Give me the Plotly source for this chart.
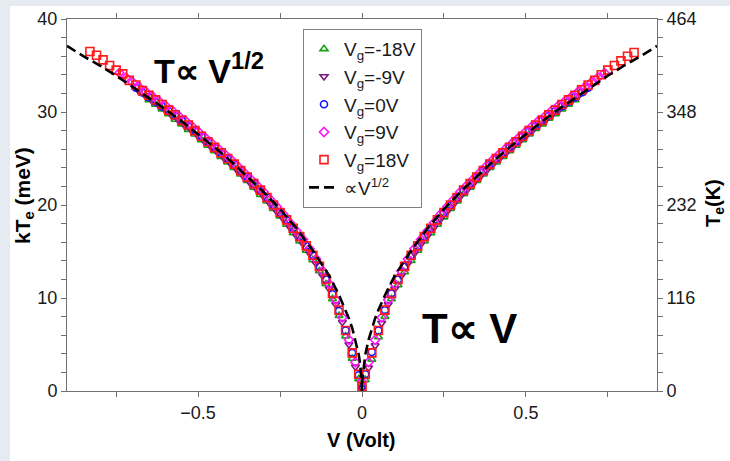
import plotly.graph_objects as go

# ---------------- data ----------------
v_m18 = [-0.65, -0.63, -0.61, -0.59, -0.57, -0.55, -0.53, -0.51, -0.49, -0.47, -0.45,
         -0.43, -0.41, -0.39, -0.37, -0.35, -0.33, -0.31, -0.29, -0.27, -0.25, -0.23,
         -0.21, -0.19, -0.17, -0.15, -0.13, -0.11, -0.09, -0.07, -0.05, -0.03, -0.01,
         0.0,
         0.01, 0.03, 0.05, 0.07, 0.09, 0.11, 0.13, 0.15, 0.17, 0.19, 0.21, 0.23, 0.25,
         0.27, 0.29, 0.31, 0.33, 0.35, 0.37, 0.39, 0.41, 0.43, 0.45, 0.47, 0.49, 0.51,
         0.53, 0.55, 0.57, 0.59, 0.61, 0.63, 0.65]
kt_m18 = [31.3, 30.8, 30.3, 29.8, 29.2, 28.7, 28.1, 27.6, 27.0, 26.4, 25.8,
          25.2, 24.6, 24.0, 23.3, 22.6, 21.9, 21.1, 20.4, 19.6, 18.8, 17.9,
          17.0, 16.1, 15.1, 14.1, 12.9, 11.5, 9.9, 8.1, 5.9, 3.5, 1.3,
          0.8,
          1.2, 3.4, 5.8, 8.0, 9.9, 11.4, 12.8, 14.0, 15.1, 16.1, 17.0, 17.9, 18.7,
          19.6, 20.4, 21.2, 21.9, 22.6, 23.3, 24.0, 24.6, 25.2, 25.8, 26.4, 27.0, 27.6,
          28.2, 28.7, 29.3, 29.8, 30.3, 30.8, 31.3]

v_m9 = [-0.68, -0.66, -0.64, -0.62, -0.60, -0.58, -0.56, -0.54, -0.52, -0.50, -0.48,
        -0.46, -0.44, -0.42, -0.40, -0.38, -0.36, -0.34, -0.32, -0.30, -0.28, -0.26,
        -0.24, -0.22, -0.20, -0.18, -0.16, -0.14, -0.12, -0.10, -0.08, -0.06, -0.04, -0.02,
        0.0,
        0.02, 0.04, 0.06, 0.08, 0.10, 0.12, 0.14, 0.16, 0.18, 0.20, 0.22, 0.24, 0.26,
        0.28, 0.30, 0.32, 0.34, 0.36, 0.38, 0.40, 0.42, 0.44, 0.46, 0.48, 0.50, 0.52,
        0.54, 0.56, 0.58, 0.60, 0.62, 0.64, 0.66, 0.68]
kt_m9 = [32.2, 31.7, 31.2, 30.7, 30.2, 29.6, 29.1, 28.5, 28.0, 27.4, 26.8,
         26.2, 25.6, 25.0, 24.4, 23.7, 23.0, 22.3, 21.6, 20.9, 20.1, 19.3,
         18.5, 17.6, 16.7, 15.8, 14.8, 13.7, 12.4, 11.0, 9.3, 7.4, 5.0, 2.6,
         0.3,
         2.5, 4.9, 7.3, 9.3, 11.0, 12.4, 13.7, 14.8, 15.8, 16.7, 17.6, 18.5, 19.3,
         20.1, 20.9, 21.6, 22.3, 23.0, 23.7, 24.4, 25.0, 25.6, 26.2, 26.8, 27.4, 28.0,
         28.6, 29.1, 29.7, 30.2, 30.7, 31.2, 31.7, 32.2]

v_0 = [-0.69, -0.67, -0.65, -0.63, -0.61, -0.59, -0.57, -0.55, -0.53, -0.51, -0.49,
       -0.47, -0.45, -0.43, -0.41, -0.39, -0.37, -0.35, -0.33, -0.31, -0.29, -0.27,
       -0.25, -0.23, -0.21, -0.19, -0.17, -0.15, -0.13, -0.11, -0.09, -0.07, -0.05,
       -0.03, -0.01,
       0.0,
       0.01, 0.03, 0.05, 0.07, 0.09, 0.11, 0.13, 0.15, 0.17, 0.19, 0.21, 0.23, 0.25,
       0.27, 0.29, 0.31, 0.33, 0.35, 0.37, 0.39, 0.41, 0.43, 0.45, 0.47, 0.49, 0.51,
       0.53, 0.55, 0.57, 0.59, 0.61, 0.63, 0.65, 0.67, 0.69]
kt_0 = [32.6, 32.1, 31.6, 31.1, 30.6, 30.1, 29.6, 29.1, 28.5, 28.0, 27.4,
        26.8, 26.2, 25.6, 25.0, 24.4, 23.7, 23.0, 22.3, 21.6, 20.8, 20.0,
        19.2, 18.4, 17.5, 16.6, 15.6, 14.6, 13.4, 12.0, 10.4, 8.6, 6.5,
        4.1, 1.7,
        0.2,
        1.8, 4.2, 6.5, 8.7, 10.5, 12.0, 13.4, 14.6, 15.6, 16.6, 17.5, 18.4, 19.2,
        20.0, 20.8, 21.6, 22.3, 23.0, 23.7, 24.4, 25.0, 25.6, 26.2, 26.8, 27.4, 28.0,
        28.5, 29.1, 29.6, 30.1, 30.6, 31.1, 31.6, 32.1, 32.6]

v_9 = [-0.74, -0.72, -0.70, -0.68, -0.66, -0.64, -0.62, -0.60, -0.58, -0.56, -0.54,
       -0.52, -0.50, -0.48, -0.46, -0.44, -0.42, -0.40, -0.38, -0.36, -0.34, -0.32,
       -0.30, -0.28, -0.26, -0.24, -0.22, -0.20, -0.18, -0.16, -0.14, -0.12, -0.10,
       -0.08, -0.06, -0.04, -0.02,
       0.0,
       0.02, 0.04, 0.06, 0.08, 0.10, 0.12, 0.14, 0.16, 0.18, 0.20, 0.22, 0.24, 0.26,
       0.28, 0.30, 0.32, 0.34, 0.36, 0.38, 0.40, 0.42, 0.44, 0.46, 0.48, 0.50, 0.52,
       0.54, 0.56, 0.58, 0.60, 0.62, 0.64, 0.66, 0.68, 0.70, 0.72, 0.74]
kt_9 = [34.2, 33.7, 33.2, 32.7, 32.2, 31.7, 31.2, 30.7, 30.2, 29.6, 29.1,
        28.5, 27.9, 27.3, 26.7, 26.1, 25.5, 24.9, 24.2, 23.5, 22.8, 22.1,
        21.4, 20.6, 19.8, 19.0, 18.1, 17.2, 16.3, 15.3, 14.2, 12.9, 11.5,
        9.8, 7.9, 5.5, 3.1,
        1.0,
        3.1, 5.5, 7.9, 9.8, 11.5, 12.9, 14.2, 15.3, 16.3, 17.2, 18.1, 19.0, 19.8,
        20.6, 21.4, 22.1, 22.8, 23.5, 24.2, 24.9, 25.5, 26.1, 26.7, 27.3, 27.9, 28.5,
        29.1, 29.6, 30.2, 30.7, 31.2, 31.7, 32.2, 32.7, 33.2, 33.7, 34.2]

v_18 = [-0.83, -0.81, -0.79, -0.77, -0.75, -0.73, -0.71, -0.69, -0.67, -0.65, -0.63,
        -0.61, -0.59, -0.57, -0.55, -0.53, -0.51, -0.49, -0.47, -0.45, -0.43, -0.41,
        -0.39, -0.37, -0.35, -0.33, -0.31, -0.29, -0.27, -0.25, -0.23, -0.21, -0.19,
        -0.17, -0.15, -0.13, -0.11, -0.09, -0.07, -0.05, -0.03, -0.01,
        0.0,
        0.01, 0.03, 0.05, 0.07, 0.09, 0.11, 0.13, 0.15, 0.17, 0.19, 0.21, 0.23, 0.25,
        0.27, 0.29, 0.31, 0.33, 0.35, 0.37, 0.39, 0.41, 0.43, 0.45, 0.47, 0.49, 0.51,
        0.53, 0.55, 0.57, 0.59, 0.61, 0.63, 0.65, 0.67, 0.69, 0.71, 0.73, 0.75, 0.77,
        0.79, 0.81, 0.83]
kt_18 = [36.5, 36.1, 35.6, 35.0, 34.5, 34.1, 33.4, 32.9, 32.3, 31.8, 31.3,
         30.8, 30.2, 29.7, 29.1, 28.6, 28.0, 27.4, 26.8, 26.2, 25.6, 25.0,
         24.4, 23.7, 23.0, 22.3, 21.6, 20.8, 20.0, 19.2, 18.4, 17.5, 16.6,
         15.6, 14.6, 13.4, 12.0, 10.5, 8.7, 6.5, 4.1, 1.8,
         0.5,
         1.8, 4.1, 6.5, 8.7, 10.5, 12.0, 13.4, 14.6, 15.6, 16.6, 17.5, 18.4, 19.2,
         20.0, 20.8, 21.6, 22.3, 23.0, 23.7, 24.4, 25.0, 25.6, 26.2, 26.8, 27.4, 28.0,
         28.6, 29.1, 29.7, 30.2, 30.8, 31.3, 31.8, 32.4, 32.9, 33.4, 34.0, 34.5, 35.0,
         35.5, 36.0, 36.4]

# dashed "proportional to V^1/2" guide line
v_fit = [-0.9, -0.85, -0.8, -0.75, -0.7, -0.65, -0.6, -0.55, -0.5, -0.45, -0.4, -0.35,
         -0.3, -0.25, -0.2, -0.15, -0.1, -0.07, -0.05, -0.04, -0.03, -0.02, -0.01,
         -0.005, -0.001, 0.0, 0.001, 0.005, 0.01, 0.02, 0.03, 0.04, 0.05, 0.07, 0.1,
         0.15, 0.2, 0.25, 0.3, 0.35, 0.4, 0.45, 0.5, 0.55, 0.6, 0.65, 0.7, 0.75, 0.8,
         0.85, 0.9]
kt_fit = [37.1, 36.0, 35.0, 33.9, 32.7, 31.5, 30.3, 29.0, 27.65, 26.2, 24.7, 23.1,
          21.4, 19.55, 17.5, 15.1, 12.4, 10.3, 8.7, 7.8, 6.8, 5.5, 3.9,
          2.8, 1.2, 0.0, 1.2, 2.8, 3.9, 5.5, 6.8, 7.8, 8.7, 10.3, 12.4,
          15.1, 17.5, 19.55, 21.4, 23.1, 24.7, 26.2, 27.65, 29.0, 30.3, 31.5, 32.7, 33.9, 35.0,
          36.0, 37.1]

series_names = ["V<sub>g</sub>=-18V", "V<sub>g</sub>=-9V", "V<sub>g</sub>=0V",
                "V<sub>g</sub>=9V", "V<sub>g</sub>=18V"]
fit_name = "\u221dV<sup>1/2</sup>"

y_left_ticks = [0, 2, 4, 6, 8, 10, 12, 14, 16, 18, 20, 22, 24, 26, 28, 30, 32, 34, 36, 38, 40]
y_left_labels = ["0", "", "", "", "", "10", "", "", "", "", "20", "", "", "", "", "30",
                 "", "", "", "", "40"]
y_right_ticks = [0, 23.2, 46.4, 69.6, 92.8, 116, 139.2, 162.4, 185.6, 208.8, 232, 255.2,
                 278.4, 301.6, 324.8, 348, 371.2, 394.4, 417.6, 440.8, 464]
y_right_labels = ["0", "", "", "", "", "116", "", "", "", "", "232", "", "", "", "",
                  "348", "", "", "", "", "464"]
x_ticks = [-0.75, -0.5, -0.25, 0, 0.25, 0.5, 0.75]
x_labels = ["", "\u22120.5", "", "0", "", "0.5", ""]

# ---------------- figure ----------------
FONT = "Liberation Sans, Arial, sans-serif"
L, R, T, B = 67, 73, 19, 70
PW, PH = 730 - L - R, 461 - T - B


def px(x):
    return (x - L) / PW


def py(y):
    return (461 - B - y) / PH


styles = [
    dict(symbol="triangle-up-open", color="#16a016", size=7),
    dict(symbol="triangle-down-open", color="#7a1a7a", size=7),
    dict(symbol="circle-open", color="#1414ff", size=7),
    dict(symbol="diamond-open", color="#ff14ff", size=7),
    dict(symbol="square-open", color="#ff1a1a", size=8),
]
data = [(v_m18, kt_m18), (v_m9, kt_m9), (v_0, kt_0), (v_9, kt_9), (v_18, kt_18)]

fig = go.Figure()
for (vx, ky), nm, st in zip(data, series_names, styles):
    fig.add_trace(go.Scatter(
        x=vx, y=ky, mode="markers", name=nm,
        marker=dict(symbol=st["symbol"], size=st["size"], color=st["color"],
                    line=dict(width=1.6, color=st["color"])),
    ))

fig.add_trace(go.Scatter(
    x=v_fit, y=kt_fit, mode="lines", name=fit_name,
    line=dict(color="black", width=2.6, dash="10px,5px"),
))

# invisible trace that carries the right-hand temperature axis
fig.add_trace(go.Scatter(x=[0], y=[0], yaxis="y2", mode="markers",
                         marker=dict(opacity=0), showlegend=False, hoverinfo="skip"))

axis_line = "#707070"
common = dict(ticks="outside", ticklen=5, tickcolor=axis_line, showline=True,
              linecolor=axis_line, linewidth=1, showgrid=False, zeroline=False,
              tickfont=dict(size=18), automargin=False, tickmode="array")


def note(text, x, y, size, angle=0):
    return dict(text=text, xref="paper", yref="paper", x=px(x), y=py(y),
                xanchor="center", yanchor="middle", textangle=angle,
                showarrow=False, font=dict(family=FONT, size=size, color="black"))


fig.update_layout(
    width=730, height=461,
    margin=dict(l=L, r=R, t=T, b=B),
    paper_bgcolor="#e6eaf1",
    plot_bgcolor="white",
    font=dict(family=FONT, size=18, color="#1a1a1a"),
    showlegend=True,
    legend=dict(
        x=px(303), y=py(29), xanchor="left", yanchor="top",
        bgcolor="white", bordercolor="#808080", borderwidth=1,
        font=dict(family=FONT, size=19, color="#1a1a1a"),
        tracegroupgap=0, itemwidth=30,
    ),
    xaxis=dict(range=[-0.9, 0.9], tickvals=x_ticks, ticktext=x_labels,
               mirror="ticks", **common),
    yaxis=dict(range=[0, 40], tickvals=y_left_ticks, ticktext=y_left_labels, **common),
    yaxis2=dict(range=[0, 464], overlaying="y", side="right",
                tickvals=y_right_ticks, ticktext=y_right_labels, **common),
    shapes=[dict(type="rect", xref="paper", yref="paper", layer="below",
                 x0=px(10), x1=px(740), y0=py(470), y1=py(6),
                 fillcolor="white", line=dict(width=0))],
    annotations=[
        note("<b>kT<sub>e</sub>\u00a0(meV)</b>", 24, 196, 21, -90),
        note("<b>T<sub>e</sub>(K)</b>", 714, 203, 20, -90),
        note("<b>V (Volt)</b>", 361, 440, 20),
        note("<b>T\u221d V<sup>1/2</sup></b>", 209, 68, 34),
        note("<b>T\u221d V</b>", 469, 328, 42),
    ],
)

fig.write_html(
    "out.html",
    config={"displayModeBar": False},
    post_script="document.body.style.margin='0';document.body.style.overflow='hidden';",
)
